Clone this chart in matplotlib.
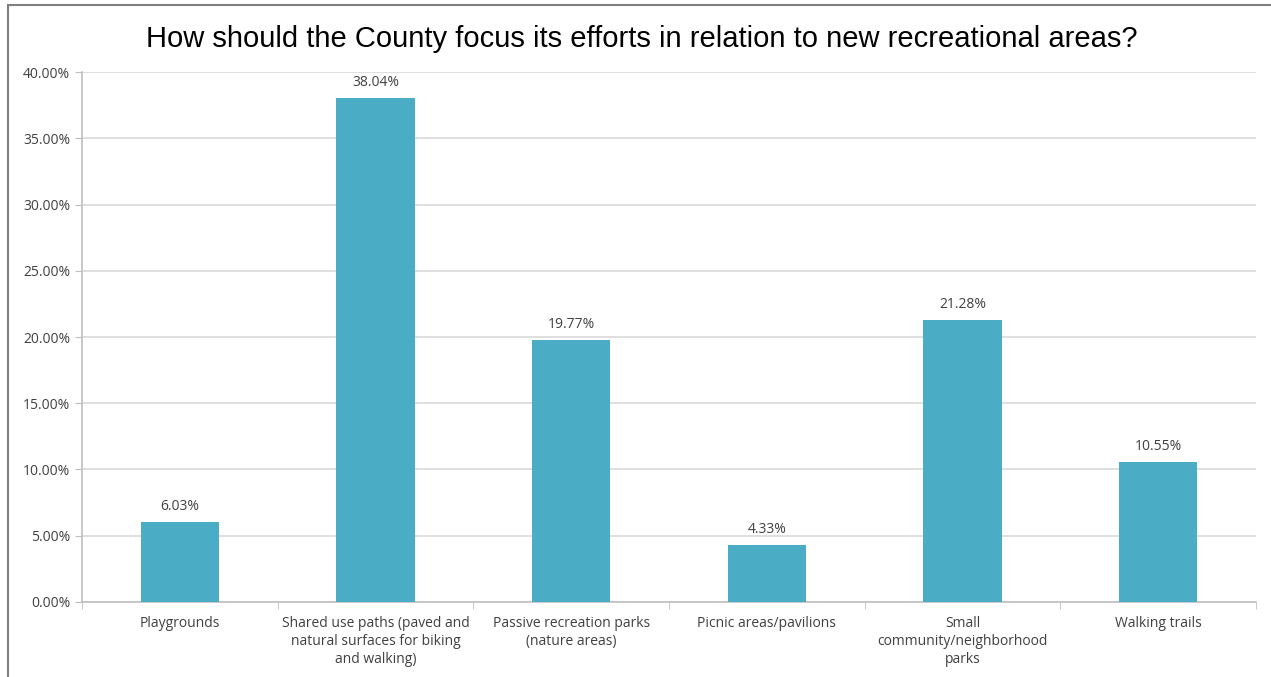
import matplotlib.pyplot as plt
import numpy as np
from matplotlib.patches import Rectangle
from matplotlib.ticker import FuncFormatter, MultipleLocator

# Survey responses
categories = [
    "Playgrounds",
    "Shared use paths (paved and\nnatural surfaces for biking\nand walking)",
    "Passive recreation parks\n(nature areas)",
    "Picnic areas/pavilions",
    "Small\ncommunity/neighborhood\nparks",
    "Walking trails",
]
shares = [6.03, 38.04, 19.77, 4.33, 21.28, 10.55]

fig = plt.figure(figsize=(12.71, 6.77), dpi=100)
ax = fig.add_axes([0.0645, 0.1108, 0.9237, 0.7828])

# Outer chart border
fig.patches.append(Rectangle((8 / 1271, -0.1), 1.2, 1.1 - 5 / 677,
                             transform=fig.transFigure, fill=False,
                             edgecolor='#7f7f7f', linewidth=1.5))

x = np.arange(len(categories))
ax.bar(x, shares, width=0.4, color='#4BACC6', zorder=3)

for xi, v in zip(x, shares):
    ax.text(xi, v + 0.6, f"{v:.2f}%", ha='center', va='bottom',
            fontsize=10, family='Open Sans', color='#404040')

ax.set_xlim(-0.5, len(categories) - 0.5)
ax.set_ylim(0, 40)
ax.yaxis.set_major_locator(MultipleLocator(5))
ax.yaxis.set_major_formatter(FuncFormatter(lambda v, p: f"{v:.2f}%"))
ax.grid(axis='y', color='#d9d9d9', linewidth=1.2, zorder=0)

ax.set_xticks(x)
ax.set_xticklabels(categories, fontsize=10, family='Open Sans', color='#404040',
                   linespacing=1.3)
ax.set_xticks(np.arange(-0.5, len(categories)), minor=True)
ax.tick_params(axis='x', which='major', length=0, pad=10)
ax.tick_params(axis='x', which='minor', length=5, color='#bfbfbf')
ax.tick_params(axis='y', length=5, color='#bfbfbf', labelsize=10, labelcolor='#404040')
for lab in ax.get_yticklabels():
    lab.set_family('Open Sans')

for s in ['top', 'right']:
    ax.spines[s].set_visible(False)
for s in ['left', 'bottom']:
    ax.spines[s].set_color('#bfbfbf')
    ax.spines[s].set_linewidth(1.2)

fig.text(0.505, 0.943, "How should the County focus its efforts in relation to new recreational areas?",
         ha='center', va='center', fontsize=21, family='Liberation Sans', color='black')

fig.savefig('out.png', dpi=100)
